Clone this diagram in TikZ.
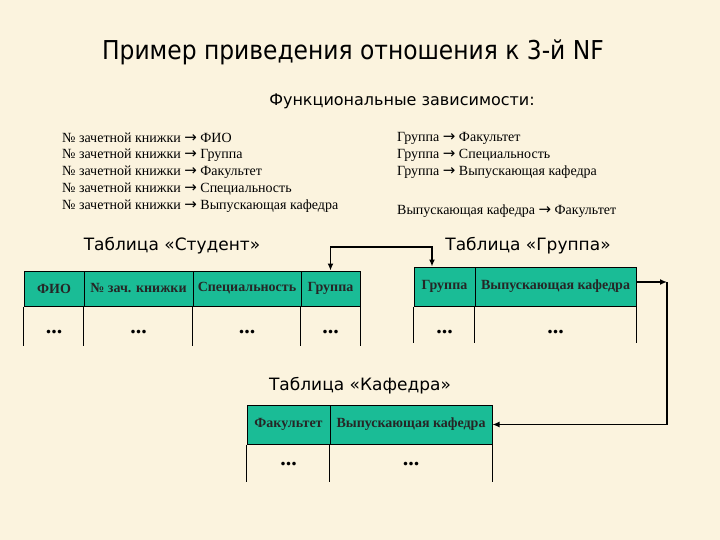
\documentclass[tikz,border=0pt]{standalone}
\usepackage{fontspec}
\setmainfont{Liberation Serif}
\newfontfamily\headfont{DejaVu Sans}
\newfontfamily\titlefont{DejaVu Sans Condensed}
\newfontfamily\arrfont{DejaVu Sans}
\usetikzlibrary{arrows.meta}
\definecolor{bgcream}{RGB}{251,243,222}
\definecolor{tealcell}{RGB}{26,188,150}
\newcommand{\ar}{{\arrfont\fontsize{15}{16}\selectfont →}}
\tikzset{
  cell/.style={draw=black, line width=1pt, fill=tealcell, inner sep=0pt, font=\fontsize{14}{16}\selectfont\bfseries, text=black!85},
  dep/.style={anchor=west, inner sep=0pt, font=\fontsize{14}{16}\selectfont},
  caption/.style={inner sep=0pt, font=\headfont\fontsize{17}{20}\selectfont},
  dots/.style={inner sep=0pt, anchor=base, font=\fontsize{22}{24}\selectfont\bfseries},
  vline/.style={line width=1pt},
  conn/.style={line width=1.6pt, -{Latex[length=7pt,width=6pt]}},
}
\begin{document}
\begin{tikzpicture}[x=1pt,y=-1pt]
\fill[bgcream] (0,0) rectangle (720,540);
\useasboundingbox (0,0) rectangle (720,540);

\node[inner sep=0pt, font=\titlefont\fontsize{26}{30}\selectfont] (title) at (353,52) {Пример приведения отношения к 3-й NF};
\node[inner sep=0pt, font=\headfont\fontsize{16}{19}\selectfont] (fz) at (402,101) {Функциональные зависимости:};

\node[dep] (l1) at (62,138) {№ зачетной книжки \ar{} ФИО};
\node[dep] (l2) at (62,155) {№ зачетной книжки \ar{} Группа};
\node[dep] (l3) at (62,172) {№ зачетной книжки \ar{} Факультет};
\node[dep] (l4) at (62,189) {№ зачетной книжки \ar{} Специальность};
\node[dep] (l5) at (62,206) {№ зачетной книжки \ar{} Выпускающая кафедра};

\node[dep] (r1) at (397,138) {Группа \ar{} Факультет};
\node[dep] (r2) at (397,155) {Группа \ar{} Специальность};
\node[dep] (r3) at (397,172) {Группа \ar{} Выпускающая кафедра};
\node[dep] (r4) at (397,211) {Выпускающая кафедра \ar{} Факультет};

\node[caption] (cs) at (172,246) {Таблица «Студент»};
\node[caption] (cg) at (528,246) {Таблица «Группа»};
\node[caption] (ck) at (360,386) {Таблица «Кафедра»};

% Student table
\node[cell, minimum width=60, minimum height=35] (s1) at (54,288.5) {ФИО};
\node[cell, minimum width=109, minimum height=35] (s2) at (138.5,288.5) {№ зач. книжки};
\node[cell, minimum width=108, minimum height=35] (s3) at (247,288.5) {Специальность};
\node[cell, minimum width=59, minimum height=35] (s4) at (330.5,288.5) {Группа};
\foreach \c in {s1,s2,s3,s4} {\draw[vline] (\c.south west) -- ++(0,39);}
\draw[vline] (s4.south east) -- ++(0,39);
\node[dots] (sd1) at (54,333) {...};
\node[dots] (sd2) at (138.5,333) {...};
\node[dots] (sd3) at (247,333) {...};
\node[dots] (sd4) at (330.5,333) {...};

% Group table
\node[cell, minimum width=61, minimum height=39] (g1) at (444.5,286.5) {Группа};
\node[cell, minimum width=161, minimum height=39] (g2) at (555.5,286.5) {Выпускающая кафедра};
\foreach \c in {g1,g2} {\draw[vline] (\c.south west) -- ++(0,36);}
\draw[vline] (g2.south east) -- ++(0,36);
\node[dots] (gd1) at (444.5,333) {...};
\node[dots] (gd2) at (555.5,333) {...};

% Kafedra table
\node[cell, minimum width=83, minimum height=39] (k1) at (288.5,424.5) {Факультет};
\node[cell, minimum width=162, minimum height=39] (k2) at (411,424.5) {Выпускающая кафедра};
\foreach \c in {k1,k2} {\draw[vline] (\c.south west) -- ++(0,37);}
\draw[vline] (k2.south east) -- ++(0,37);
\node[dots] (kd1) at (288.5,465) {...};
\node[dots] (kd2) at (411,465) {...};

% connectors
\coordinate (ja) at (330.5,247);
\coordinate (jb) at (432,247);
\draw[conn, {Latex[length=7pt,width=6pt]}-{Latex[length=7pt,width=6pt]}] (s4.north) -- (ja) -- (jb) -- (jb |- g1.north);
\coordinate (c1) at (667,282);
\draw[conn] (g2.east |- c1) -- (c1);
\draw[conn] (c1) -- (c1 |- k2.east) -- (k2.east);
\end{tikzpicture}
\end{document}
